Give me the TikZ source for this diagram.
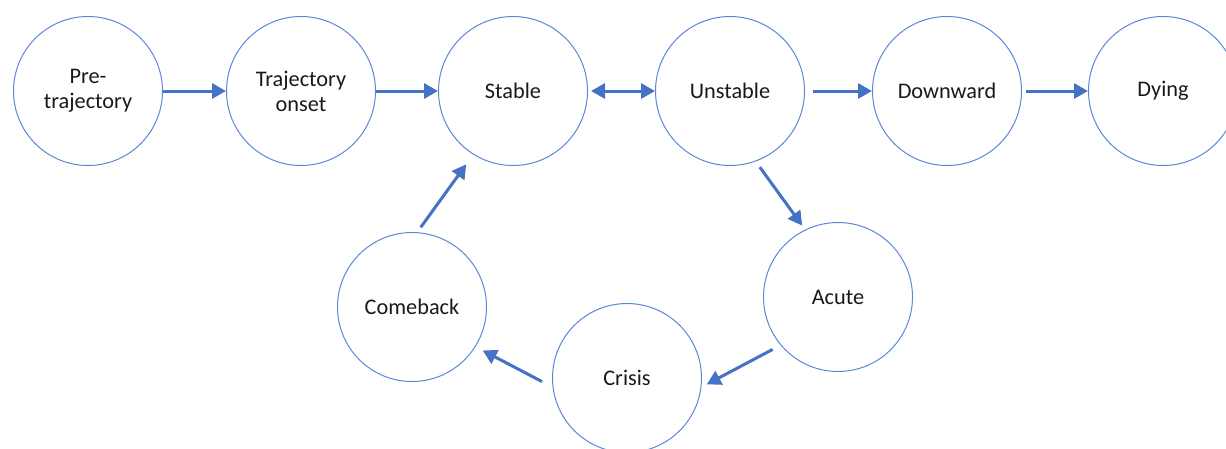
\documentclass[tikz,border=0pt]{standalone}
\usepackage{fontspec}
\setmainfont{Carlito}
\usetikzlibrary{arrows.meta}
\definecolor{blu}{HTML}{4472C4}
\definecolor{circ}{HTML}{5B87D6}
\begin{document}
\begin{tikzpicture}[x=1pt,y=-1pt,
  state/.style={circle,draw=circ,line width=1pt,minimum size=149pt,inner sep=0pt,align=center,
    font=\fontsize{22.3}{25}\selectfont,text=black!90},
  arr/.style={draw=blu,line width=3pt,-{Triangle[length=14pt,width=15pt]}},
  darr/.style={draw=blu,line width=3pt,{Triangle[length=14pt,width=15pt]}-{Triangle[length=14pt,width=15pt]}}]
\useasboundingbox (0,0) rectangle (1226,448);
\node[state] (pre) at (88,91) {Pre-\\trajectory};
\node[state] (tra) at (301,91) {Trajectory\\onset};
\node[state] (sta) at (513,91) {Stable};
\node[state] (uns) at (730,91) {Unstable};
\node[state] (dow) at (947,91) {Downward};
\node[state] (dyi) at (1163,91) {Dying};
\node[state] (acu) at (838,297) {Acute};
\node[state] (cri) at (627,378) {Crisis};
\node[state] (com) at (412,307) {Comeback};
\draw[arr] (pre) -- (tra);
\draw[arr] (tra) -- (sta);
\draw[darr, shorten <=3pt] (sta) -- (uns);
\draw[arr, shorten <=8pt] (uns) -- (dow);
\draw[arr, shorten <=4pt] (dow) -- (dyi);
\draw[arr, shorten <=7pt, shorten >=5pt] (uns.-70) -- (acu.116);
\draw[arr, shorten <=9pt, shorten >=6pt] (acu.220) -- (cri.-7);
\draw[arr, shorten <=12pt, shorten >=8pt] (cri.187) -- (com.-32);
\draw[arr, shorten <=6pt, shorten >=12pt] (com.86) -- (sta.238);
\end{tikzpicture}
\end{document}
